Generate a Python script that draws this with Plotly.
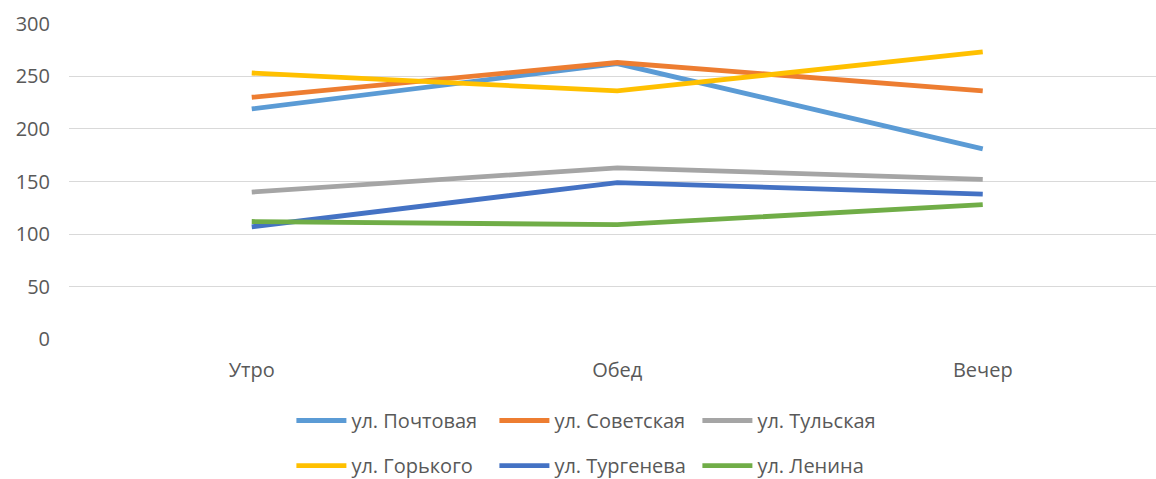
import plotly.graph_objects as go

categories = ["Утро", "Обед", "Вечер"]
series_names = ["ул. Почтовая", "ул. Советская", "ул. Тульская",
                "ул. Горького", "ул. Тургенева", "ул. Ленина"]
pochtovaya = [219, 262, 181]
sovetskaya = [230, 263, 236]
tulskaya = [140, 163, 152]
gorkogo = [253, 236, 273]
turgeneva = [107, 149, 138]
lenina = [112, 109, 128]
y_ticks = [0, 50, 100, 150, 200, 250, 300]

series_values = [pochtovaya, sovetskaya, tulskaya, gorkogo, turgeneva, lenina]
colors = ["#5B9BD5", "#ED7D31", "#A5A5A5", "#FFC000", "#4472C4", "#70AD47"]

FONT = "Open Sans"
TXT = "#595959"

fig = go.Figure()
for i, (name, vals, col) in enumerate(zip(series_names, series_values, colors)):
    fig.add_trace(go.Scatter(
        x=categories, y=vals, name=name, mode="lines",
        line=dict(color=col, width=4.8),
        legend="legend" if i < 3 else "legend2",
    ))

leg_common = dict(orientation="h", x=0.2046, xanchor="left", yanchor="middle",
                  entrywidth=138, entrywidthmode="pixels", itemwidth=50,
                  font=dict(family=FONT, size=20, color=TXT),
                  bgcolor="rgba(0,0,0,0)")

fig.update_layout(
    width=1156, height=479,
    margin=dict(l=69, r=0, t=23, b=139, autoexpand=False),
    paper_bgcolor="white", plot_bgcolor="white",
    font=dict(family=FONT, size=20, color=TXT),
    xaxis=dict(type="category", range=[-0.5, 2.474], showgrid=False,
               showline=False, zeroline=False, ticks="",
               ticklabelstandoff=16,
               tickfont=dict(family=FONT, size=20, color=TXT)),
    yaxis=dict(range=[-0.5, 300.5], tickvals=y_ticks, showgrid=True,
               gridcolor="#D9D9D9", gridwidth=1.4, zeroline=False,
               showline=False, ticks="", ticklabelstandoff=18,
               tickfont=dict(family=FONT, size=20, color=TXT)),
    legend=dict(y=-0.254, **leg_common),
    legend2=dict(y=-0.396, **leg_common),
    showlegend=True,
)

fig.write_html("out.html", config={"displayModeBar": False},
               post_script="document.body.style.margin='0';document.body.style.overflow='hidden';")
